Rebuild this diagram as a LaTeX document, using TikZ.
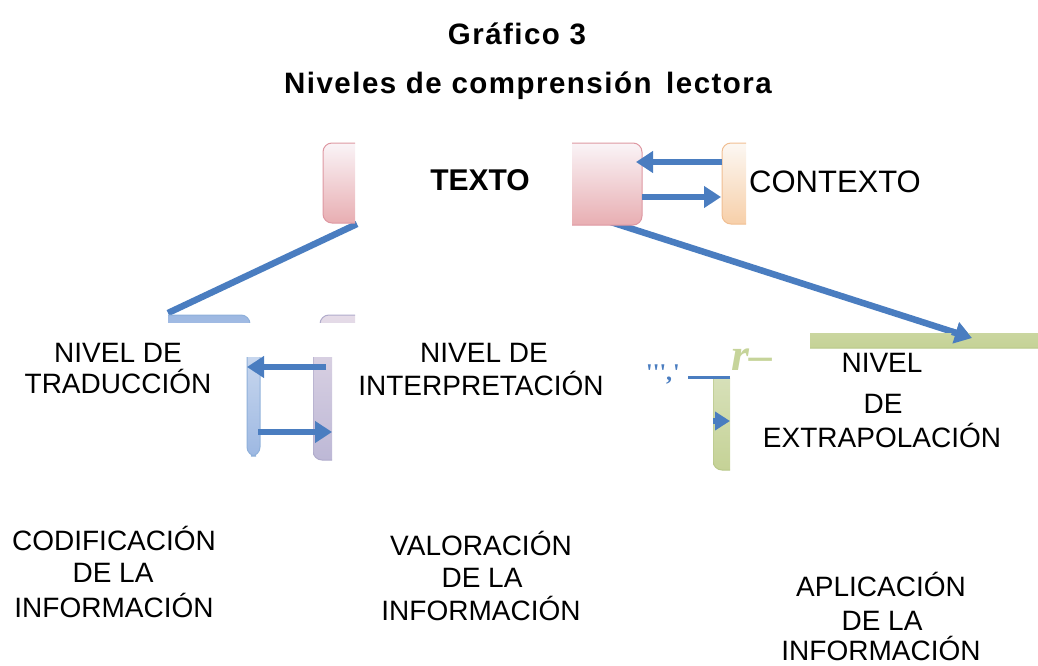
\documentclass[tikz,border=0pt]{standalone}
\usepackage{fontspec}
\setmainfont{Liberation Sans}
\newfontfamily\titlefont[LetterSpace=5]{Liberation Sans}
\newfontfamily\serfont{Liberation Serif}
\usetikzlibrary{arrows.meta}
\definecolor{arrowblue}{HTML}{4A7DC0}
\definecolor{pinktop}{HTML}{FAF4F7}
\definecolor{pinkbot}{HTML}{E8AEB2}
\definecolor{pinkedge}{HTML}{DE98A2}
\definecolor{peachtop}{HTML}{FCF8F3}
\definecolor{peachbot}{HTML}{F7CFA9}
\definecolor{peachedge}{HTML}{F0BE92}
\definecolor{bluetop}{HTML}{9DB8E2}
\definecolor{bluebot}{HTML}{CBD9EE}
\definecolor{blueedge}{HTML}{8FB0DA}
\definecolor{lavtop}{HTML}{E6DCE8}
\definecolor{lavbot}{HTML}{BDB8D6}
\definecolor{lavedge}{HTML}{B0ABCB}
\definecolor{greentop}{HTML}{E6ECD6}
\definecolor{greenbot}{HTML}{C5D296}
\definecolor{greenedge}{HTML}{B9C88A}
\definecolor{rgreen}{HTML}{C6D49A}
\tikzset{
  lbl/.style={anchor=base, inner sep=0pt, font=\fontsize{28}{33}\selectfont},
  ttl/.style={anchor=base, inner sep=0pt, font=\titlefont\bfseries\fontsize{29.5}{33}\selectfont},
  arr/.style={draw=arrowblue, line width=6.5pt, -{Triangle[length=17pt,width=21pt]}},
  conn/.style={draw=arrowblue, line width=6.5pt},
  pinkbox/.style={draw=pinkedge, line width=1pt, rounded corners=9pt, top color=pinktop, bottom color=pinkbot},
  peachbox/.style={draw=peachedge, line width=1pt, rounded corners=9pt, top color=peachtop, bottom color=peachbot},
  bluebox/.style={draw=blueedge, line width=1pt, rounded corners=9pt, top color=bluetop, bottom color=bluebot},
  lavbox/.style={draw=lavedge, line width=1pt, rounded corners=9pt, top color=lavtop, bottom color=lavbot},
  greenbox/.style={draw=greenedge, line width=1pt, rounded corners=9pt, top color=greentop, bottom color=greenbot},
}
\begin{document}
\begin{tikzpicture}[x=1pt,y=-1pt]
\useasboundingbox (0,0) rectangle (1038,666);

% titles
\node[ttl] (t1) at (517,45) {Gráfico 3};
\node[ttl] (t2) at (528,94) {Niveles de comprensión\hspace{5pt} lectora};

% connector coordinates
\coordinate (lA) at (357,224);
\coordinate (lB) at (168,313);
\coordinate (bA) at (592,216);
\coordinate (bB) at (972,338);
\coordinate (c1) at (722,162);
\coordinate (c2) at (636,162);
\coordinate (c3) at (642,197);
\coordinate (c4) at (721,197);
\coordinate (m1) at (326,367);
\coordinate (m2) at (247,367);
\coordinate (m3) at (258,432);
\coordinate (m4) at (332,432);
\coordinate (g1) at (713,421);
\coordinate (g2) at (730,421);
\coordinate (u1) at (688,377);
\coordinate (u2) at (730,377);

% lines under boxes
\draw[conn] (lA) -- (lB);
\draw[arr] (bA) -- (bB);

% TEXTO left piece
\begin{scope}
  \clip (300,130) rectangle (355,240);
  \path[pinkbox] (323,143) rectangle (420,223);
\end{scope}
% TEXTO right piece
\begin{scope}
  \clip (572,130) rectangle (660,240);
  \path[pinkbox] (520,143) rectangle (642,225);
\end{scope}
% CONTEXTO piece
\begin{scope}
  \clip (710,130) rectangle (746,240);
  \path[peachbox] (722,143) rectangle (800,224);
\end{scope}
% blue top strip
\begin{scope}
  \clip (168,310) rectangle (260,322);
  \path[bluebox] (120,315) rectangle (250,420);
\end{scope}
% lavender top strip
\begin{scope}
  \clip (318,310) rectangle (355,322);
  \path[lavbox] (320,315) rectangle (420,420);
\end{scope}
% blue middle piece
\begin{scope}
  \clip (240,357) rectangle (260.5,465);
  \path[bluebox, top color=bluebot!60!white, bottom color=bluetop] (247,300) rectangle (260,456);
\end{scope}
% lavender middle piece
\begin{scope}
  \clip (313,357) rectangle (332,470);
  \path[lavbox] (313,300) rectangle (400,460);
\end{scope}
% green lower piece
\begin{scope}
  \clip (713,378) rectangle (730,480);
  \path[greenbox] (713,300) rectangle (800,470);
\end{scope}
% green bar
\begin{scope}
  \clip (810,333) rectangle (1038,348);
  \path[greenbox] (790,250) rectangle (1060,348);
\end{scope}
\draw[arr] (bB) ++(-20,-6.2) -- (bB);

% arrows
\draw[arr] (c1) -- (c2);
\draw[arr] (c3) -- (c4);
\draw[arr] (m1) -- (m2);
\draw[arr] (m3) -- (m4);
\begin{scope}
  \clip (713,400) rectangle (731,440);
  \draw[arr, -{Triangle[length=15pt,width=18pt]}] (g1) -- (g2);
\end{scope}
\draw[draw=arrowblue, line width=3pt] (u1) -- (u2);

% stray characters
\node[anchor=base west, inner sep=0pt, text=arrowblue, font=\serfont\bfseries\fontsize{24}{26}\selectfont] (dots) at (646,380) {''',\kern1pt'};
\node[anchor=base west, inner sep=0pt, text=rgreen, font=\serfont\itshape\bfseries\fontsize{46}{48}\selectfont] (rr) at (731,370) {r–};

% main labels
\node[anchor=base, inner sep=0pt, font=\bfseries\fontsize{30}{34}\selectfont] (texto) at (480,190) {TEXTO};
\node[anchor=base, inner sep=0pt, font=\fontsize{31}{35}\selectfont] (contexto) at (835,192) {CONTEXTO};

\node[lbl] (trad1) at (118,362) {NIVEL DE};
\node[lbl] (trad2) at (118,393) {TRADUCCIÓN};
\node[lbl] (int1) at (484,362) {NIVEL DE};
\node[lbl] (int2) at (481,395) {INTERPRETACIÓN};
\node[lbl] (ext1) at (882,372) {NIVEL};
\node[lbl] (ext2) at (883,413) {DE};
\node[lbl] (ext3) at (882,447) {EXTRAPOLACIÓN};

\node[lbl] (cod1) at (114,550) {CODIFICACIÓN};
\node[lbl] (cod2) at (113,582) {DE LA};
\node[lbl] (cod3) at (114,617) {INFORMACIÓN};
\node[lbl] (val1) at (481,555) {VALORACIÓN};
\node[lbl] (val2) at (482,587) {DE LA};
\node[lbl] (val3) at (481,620) {INFORMACIÓN};
\node[lbl] (apl1) at (881,596) {APLICACIÓN};
\node[lbl] (apl2) at (882,630) {DE LA};
\node[lbl] (apl3) at (881,660) {INFORMACIÓN};
\end{tikzpicture}
\end{document}
